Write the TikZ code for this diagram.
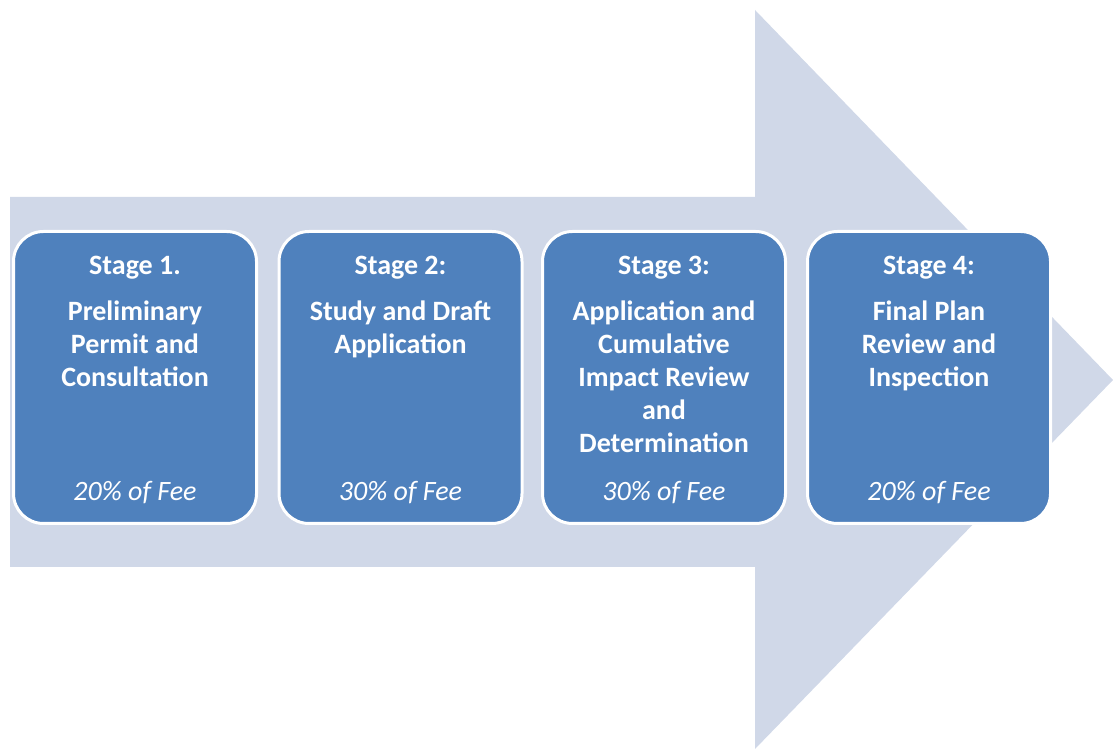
\documentclass[tikz,border=0pt]{standalone}
\usepackage{fontspec}
\setmainfont{Carlito}
\definecolor{arrowgray}{HTML}{D0D8E8}
\definecolor{stageblue}{HTML}{4F81BD}
\tikzset{
	stagebox/.style={draw=white, line width=3pt, fill=stageblue, rounded corners=30pt,
		minimum width=243pt, minimum height=292pt},
	stagetext/.style={anchor=north, text=white, align=center, inner sep=0pt,
		font=\fontsize{28}{33}\selectfont\bfseries},
	feetext/.style={anchor=south, text=white, inner sep=0pt,
		font=\fontsize{28}{33}\selectfont\itshape}
}
\begin{document}
\begin{tikzpicture}[x=1pt, y=1pt]
	\useasboundingbox (0,0) rectangle (1113,749);
	% big arrow behind the stages
	\fill[arrowgray] (10,552) -- (755,552) -- (755,739) -- (1113,369) -- (755,0) -- (755,182) -- (10,182) -- cycle;
	% stage boxes
	\node[stagebox] (s1) at (135,371.5) {};
	\node[stagebox] (s2) at (400.5,371.5) {};
	\node[stagebox] (s3) at (664,371.5) {};
	\node[stagebox] (s4) at (929,371.5) {};
	% texts
	\node[stagetext] (t1) at ([yshift=-25.5pt]s1.north) {Stage 1.\\[13pt]Preliminary\\Permit and\\Consultation};
	\node[stagetext] (t2) at ([yshift=-25.5pt]s2.north) {Stage 2:\\[13pt]Study and Draft\\Application};
	\node[stagetext] (t3) at ([yshift=-25.5pt]s3.north) {Stage 3:\\[13pt]Application and\\Cumulative\\Impact Review\\and\\Determination};
	\node[stagetext] (t4) at ([yshift=-25.5pt]s4.north) {Stage 4:\\[13pt]Final Plan\\Review and\\Inspection};
	% fees
	\node[feetext] (f1) at ([yshift=21pt]s1.south) {20\% of Fee};
	\node[feetext] (f2) at ([yshift=21pt]s2.south) {30\% of Fee};
	\node[feetext] (f3) at ([yshift=21pt]s3.south) {30\% of Fee};
	\node[feetext] (f4) at ([yshift=21pt]s4.south) {20\% of Fee};
\end{tikzpicture}
\end{document}
